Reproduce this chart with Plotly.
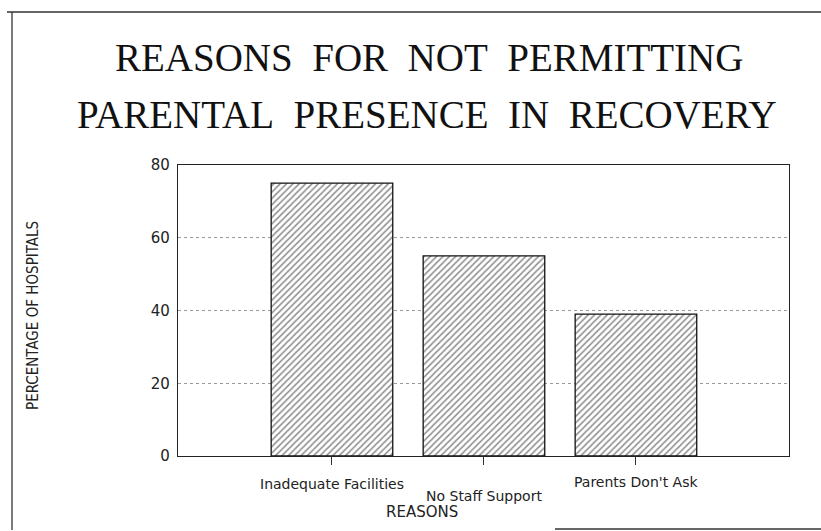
import plotly.graph_objects as go

categories = ["Inadequate Facilities", "No Staff Support", "Parents Don't Ask"]
values = [75, 55, 39]
y_ticks = [0, 20, 40, 60, 80]

title_lines = ["REASONS FOR NOT PERMITTING", "PARENTAL PRESENCE IN RECOVERY"]

W, H = 821, 531
L, R, T, B = 178, 789, 165, 456


def px(x):
    return (x - L) / (R - L)


def py(y):
    return (B - y) / (B - T)


fig = go.Figure()
fig.add_trace(go.Bar(
    x=list(range(len(categories))),
    y=values,
    width=0.8,
    marker=dict(
        color="white",
        line=dict(color="#111", width=1.3),
        pattern=dict(shape="/", size=4.5, solidity=0.33, fgcolor="#1a1a1a", bgcolor="white"),
    ),
    hovertext=categories,
))

sans = "DejaVu Sans, Lato, sans-serif"
tick_font = dict(family=sans, size=14, color="#222")

fig.update_layout(
    width=W, height=H,
    margin=dict(l=L, r=W - R, t=T, b=H - B),
    paper_bgcolor="white", plot_bgcolor="white",
    showlegend=False,
    bargap=0.2,
    xaxis=dict(
        tickmode="array", tickvals=list(range(len(categories))),
        ticktext=["" for _ in categories],
        range=[-1.013, 3.007],
        ticks="outside", ticklen=8, tickcolor="#333", tickwidth=1,
        showline=True, linecolor="#222", linewidth=1.3, mirror=True,
        showgrid=False, zeroline=False,
    ),
    yaxis=dict(
        range=[0, 80], tickmode="array", tickvals=y_ticks,
        ticks="", tickfont=dict(family=sans, size=15, color="#222"),
        ticklabelstandoff=4,
        showline=True, linecolor="#222", linewidth=1.3, mirror=True,
        showgrid=True, gridcolor="#999", griddash="dot", gridwidth=1,
        zeroline=False,
    ),
)

# category labels (staggered as in the original)
label_y = [484, 496, 482]
for i, (cat, ly) in enumerate(zip(categories, label_y)):
    fig.add_annotation(text=cat, xref="x", yref="paper", x=i, y=py(ly),
                       xanchor="center", yanchor="middle", showarrow=False, font=tick_font)

serif = dict(family="Liberation Serif, DejaVu Serif, serif", size=39, color="#111")
title_y = [58, 115]
title_x = [429, 427]
for line, yy, xx in zip(title_lines, title_y, title_x):
    fig.add_annotation(text=line.replace(" ", "\u2002"), xref="paper", yref="paper", x=px(xx), y=py(yy),
                       xanchor="center", yanchor="middle", showarrow=False, font=serif)

fig.add_annotation(text="REASONS", xref="paper", yref="paper", x=px(422), y=py(512),
                   xanchor="center", yanchor="middle", showarrow=False,
                   font=dict(family=sans, size=15, color="#222"))
fig.add_annotation(text="PERCENTAGE OF HOSPITALS", xref="paper", yref="paper",
                   x=px(33), y=py(316), xanchor="center", yanchor="middle", textangle=-90,
                   showarrow=False,
                   font=dict(family="Liberation Sans Narrow, DejaVu Sans Condensed, Liberation Sans, sans-serif",
                             size=15, color="#222"))

# outer frame
frame = dict(color="#333", width=1.3)
fig.add_shape(type="line", xref="paper", yref="paper", x0=px(7), x1=px(821), y0=py(12), y1=py(12), line=frame)
fig.add_shape(type="line", xref="paper", yref="paper", x0=px(12), x1=px(12), y0=py(12), y1=py(530), line=frame)
fig.add_shape(type="line", xref="paper", yref="paper", x0=px(555), x1=px(821), y0=py(529), y1=py(529), line=frame)

fig.write_html("out.html", config={"displayModeBar": False},
               post_script="document.body.style.margin='0';document.body.style.overflow='hidden';")
